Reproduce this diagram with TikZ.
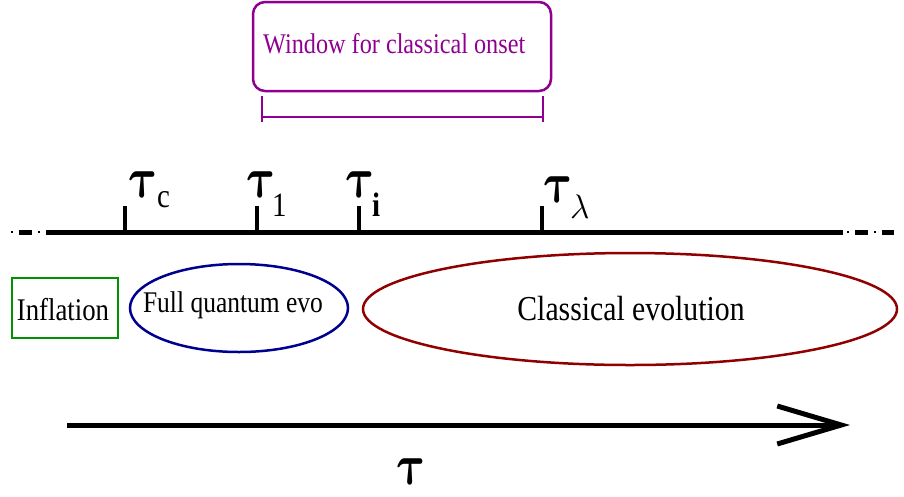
\RequirePackage{fix-cm}
\documentclass[tikz,border=0pt]{standalone}
\usepackage{amsmath}
\usepackage{fontspec}
\setmainfont[FakeStretch=0.85]{Liberation Serif}
\usetikzlibrary{arrows.meta,shapes.geometric}
\definecolor{xmag}{RGB}{144,0,144}
\definecolor{xgreen}{RGB}{0,144,0}
\definecolor{xblue}{RGB}{0,0,144}
\definecolor{xred}{RGB}{144,0,0}
\newcommand{\bigtau}{\fontsize{58}{58}\selectfont$\boldsymbol{\tau}$}
\tikzset{
  axis/.style={line width=5pt},
  thinmark/.style={line width=2pt},
  tickmark/.style={line width=4pt},
  taulbl/.style={inner sep=0pt, anchor=base west, xscale=0.78, xslant=-0.22, transform shape},
  sublbl/.style={inner sep=0pt, anchor=base west, font=\fontsize{34}{34}\selectfont},
  lbl/.style={inner sep=0pt}
}
\begin{document}
\begin{tikzpicture}[x=1pt,y=-1pt]
\useasboundingbox (0,0) rectangle (904,496);
% window box
\node[draw=xmag, line width=2.5pt, rounded corners=12pt, minimum width=298pt, minimum height=89pt, inner sep=0pt] (win) at (402,46.5) {};
\node[lbl, text=xmag, font=\fontsize{28.5}{28.5}\selectfont, anchor=base west] (wintext) at (263,53) {Window for classical onset};
% bracket
\coordinate (bl) at (262,117);
\coordinate (br) at (543,117);
\draw[xmag, line width=2.5pt] (bl) -- (br);
\draw[xmag, line width=2.5pt] ([yshift=-5pt]bl) -- ([yshift=21pt]bl);
\draw[xmag, line width=2.5pt] ([yshift=-5pt]br) -- ([yshift=21pt]br);
% main axis
\coordinate (a0) at (46,232);
\coordinate (a1) at (843,232);
\draw[axis] (a0) -- (a1);
\draw[axis] (19,232) -- (32,232);
\draw[thinmark] (11,232) -- (13,232);
\draw[thinmark] (38,232) -- (40,232);
\draw[thinmark] (847,232) -- (849,232);
\draw[axis] (855,232) -- (868,232);
\draw[thinmark] (874,232) -- (876,232);
\draw[axis] (882,232) -- (894,232);
% ticks
\foreach \n/\x in {c/125, one/257, i/359, lam/542}{
  \coordinate (t\n) at (\x,232);
  \draw[tickmark] (t\n) -- ++(0,-26);
}
% labels
\node[taulbl] (tauc) at (131,197) {\bigtau};
\node[sublbl] (subc) at (157,207) {c};
\node[taulbl] (tau1) at (249,197) {\bigtau};
\node[sublbl] (sub1) at (272,216) {1};
\node[taulbl] (taui) at (348,197) {\bigtau};
\node[sublbl, font=\bfseries\fontsize{34}{34}\selectfont] (subi) at (372,216) {i};
\node[taulbl] (taul) at (546,202) {\bigtau};
\node[sublbl, font=\fontsize{34}{34}\selectfont] (subl) at (570,218) {$\lambda$};
% bottom nodes
\node[draw=xgreen, line width=2pt, minimum width=106pt, minimum height=60pt, inner sep=0pt] (infl) at (65,308) {};
\node[lbl, font=\fontsize{31.5}{31.5}\selectfont] at (63,310) {Inflation};
\node[draw=xblue, line width=2.5pt, ellipse, minimum width=218pt, minimum height=88pt, inner sep=0pt] (fqe) at (239,308) {};
\node[lbl, font=\fontsize{30}{30}\selectfont] at (233,305) {Full quantum evo};
\node[draw=xred, line width=2.5pt, ellipse, minimum width=534pt, minimum height=112pt, inner sep=0pt] (cev) at (630,309) {};
\node[lbl, font=\fontsize{35}{35}\selectfont] at (631,309) {Classical evolution};
% time arrow
\coordinate (s) at (67,425);
\coordinate (e) at (850,425);
\draw[line width=5pt, -{Straight Barb[length=64pt,width=38pt,line width=5pt]}] (s) -- (e);
\node[taulbl, anchor=base] (taub) at (414,484) {\bigtau};
\end{tikzpicture}
\end{document}
